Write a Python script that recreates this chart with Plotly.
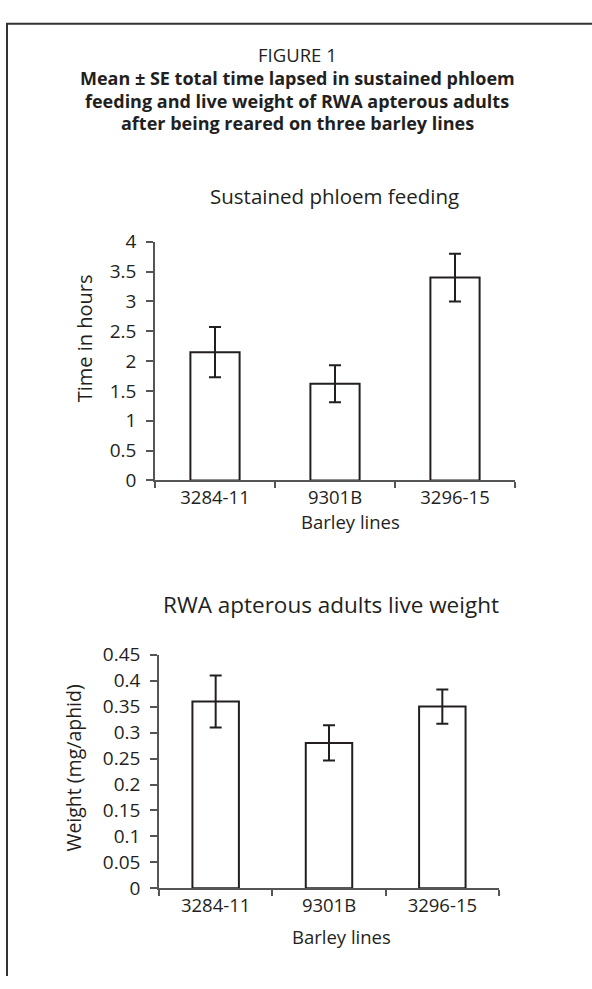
import plotly.graph_objects as go

W, H = 592, 989

# Data
barley_lines = ["3284-11", "9301B", "3296-15"]
feeding_hours = [2.15, 1.62, 3.40]
feeding_se = [0.42, 0.31, 0.40]
live_weight = [0.36, 0.28, 0.35]
weight_se = [0.05, 0.034, 0.033]

feeding_ticks = [0, 0.5, 1, 1.5, 2, 2.5, 3, 3.5, 4]
weight_ticks = [0, 0.05, 0.1, 0.15, 0.2, 0.25, 0.3, 0.35, 0.4, 0.45]

INK = "#231f20"
FONT = "Open Sans"


def px_x(p):
    return p / W


def px_y(p):
    return 1 - p / H


fig = go.Figure()

bar_style = dict(
    marker=dict(color="white", line=dict(color=INK, width=2)),
    width=0.41,
    showlegend=False,
    hoverinfo="skip",
)

fig.add_trace(go.Bar(
    x=barley_lines, y=feeding_hours,
    error_y=dict(type="data", array=feeding_se, color=INK, thickness=2, width=6),
    xaxis="x", yaxis="y", **bar_style,
))
fig.add_trace(go.Bar(
    x=barley_lines, y=live_weight,
    error_y=dict(type="data", array=weight_se, color=INK, thickness=2, width=6),
    xaxis="x2", yaxis="y2", **bar_style,
))

xaxis_common = dict(
    type="category", range=[-0.5, 2.5], tickson="boundaries",
    ticks="outside", ticklen=6, tickcolor="#555", tickwidth=1.5,
    showline=True, linecolor="#555", linewidth=1.5,
    showgrid=False, zeroline=False, fixedrange=True,
    tickfont=dict(family=FONT, size=18.5, color=INK),
)
yaxis_common = dict(
    ticks="outside", ticklen=7, tickcolor="#555", tickwidth=1.5,
    ticklabelstandoff=6,
    showline=True, linecolor="#555", linewidth=1.5,
    showgrid=False, zeroline=False, fixedrange=True,
    tickfont=dict(family=FONT, size=19, color=INK),
)

fig.update_layout(
    width=W, height=H,
    margin=dict(l=0, r=0, t=0, b=0),
    paper_bgcolor="white", plot_bgcolor="white",
    xaxis=dict(domain=[px_x(155), px_x(515)], anchor="y", **xaxis_common),
    yaxis=dict(domain=[px_y(480), px_y(235)], anchor="x", range=[0, 4],
               tickvals=feeding_ticks, ticktext=[f"{v:g}" for v in feeding_ticks],
               **yaxis_common),
    xaxis2=dict(domain=[px_x(159), px_x(499)], anchor="y2", **xaxis_common),
    yaxis2=dict(domain=[px_y(899), px_y(659)], anchor="x2", range=[0, 0.45],
                tickvals=weight_ticks, ticktext=[f"{v:g}" for v in weight_ticks],
                **yaxis_common),
)

texts = [
    ("FIGURE 1", 297, 43, 18.5),
    ("<b>Mean ± SE total time lapsed in sustained phloem</b>", 297, 67, 18),
    ("<b>feeding and live weight of RWA apterous adults</b>", 297, 90, 18),
    ("<b>after being reared on three barley lines</b>", 297, 113, 18),
    ("Sustained phloem feeding", 334, 188, 20.5),
    ("Barley lines", 350, 522, 18.5),
    ("RWA apterous adults live weight", 331, 607, 22.5),
    ("Barley lines", 341, 948, 18.5),
]
for text, x, y, size in texts:
    fig.add_annotation(
        text=text, x=px_x(x), y=px_y(y), xref="paper", yref="paper",
        xanchor="center", yanchor="middle", showarrow=False,
        font=dict(family=FONT, size=size, color=INK),
    )

# Vertical axis titles
fig.add_annotation(text="Time in hours", x=px_x(84), y=px_y(334), xref="paper", yref="paper",
                   textangle=-90, showarrow=False, xanchor="center", yanchor="middle",
                   font=dict(family=FONT, size=20, color=INK))
fig.add_annotation(text="Weight (mg/aphid)", x=px_x(74), y=px_y(776), xref="paper", yref="paper",
                   textangle=-90, showarrow=False, xanchor="center", yanchor="middle",
                   font=dict(family=FONT, size=19.5, color=INK))

# Frame around the figure (left and top edges)
fig.add_shape(type="path", xref="paper", yref="paper",
              path=f"M {px_x(7)},{px_y(H)} L {px_x(7)},{px_y(11)} L {px_x(W)},{px_y(11)}",
              line=dict(color="#333", width=2))

fig.write_html("out.html")
